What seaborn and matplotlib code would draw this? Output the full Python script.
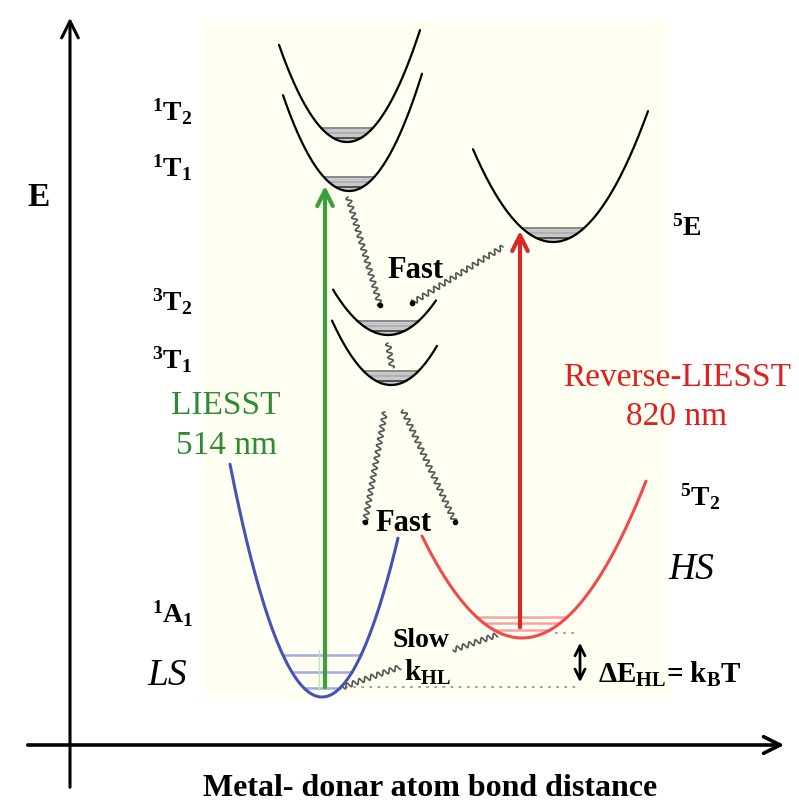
import numpy as np
import pandas as pd
import seaborn as sns
import matplotlib.pyplot as plt
from matplotlib.patches import Rectangle

# potential wells (pixel frame, y grows downward)
states = ["1T2", "1T1", "5E", "3T2", "3T1", "LS", "HS"]
well_x0 = [347, 349, 553, 388, 391, 322, 522]
well_ymin = [142, 191, 242, 335, 385, 697, 638]
well_k = [0.021, 0.022, 0.0145, 0.015, 0.0185, 0.0275, 0.0102]
well_left = [279, 283, 473, 333, 332, 230, 422]
well_right = [420, 422, 648, 436, 437, 398, 646]
# vibrational levels, depth above the well minimum
level_depth = [[14, 9, 4]] * 5 + [[42, 25, 9], [21, 15, 8]]

# non radiative (wavy) relaxations, start -> end
wavy_start = [(348, 197), (503, 247), (388, 343), (385, 412), (403, 410), (343, 687), (453, 650)]
wavy_end = [(380, 305), (412, 303), (392, 368), (365, 522), (455, 522), (400, 667), (497, 635)]
wavy_tip = [True, True, False, True, True, False, False]

# optical excitations
liesst_x, liesst_y = 325, (690, 183)
rev_x, rev_y = 520, (630, 228)

curve_color = {"1T2": "black", "1T1": "black", "5E": "black", "3T2": "black",
               "3T1": "black", "LS": "#4653b5", "HS": "#f24a4a"}
level_color = {"LS": "#a3abe0", "HS": "#f7a3a3"}

sns.set_style("white")
plt.rcParams["font.family"] = ["Liberation Serif", "DejaVu Serif"]
plt.rcParams["mathtext.fontset"] = "custom"
plt.rcParams["mathtext.rm"] = "Liberation Serif:bold"
plt.rcParams["mathtext.bf"] = "Liberation Serif:bold"
plt.rcParams["mathtext.it"] = "Liberation Serif:italic:bold"

fig = plt.figure(figsize=(7.99, 8.05), dpi=100)
ax = fig.add_axes([0, 0, 1, 1])
ax.set_xlim(0, 799)
ax.set_ylim(805, 0)
ax.axis("off")

ax.add_patch(Rectangle((205, 20), 463, 678, color="#fffff2", zorder=0))

rows = []
for s, x0, ym, k, xl, xr in zip(states, well_x0, well_ymin, well_k, well_left, well_right):
    xs = np.linspace(xl, xr, 200)
    for x in xs:
        rows.append({"state": s, "r": x, "E": ym - k * (x - x0) ** 2})
wells = pd.DataFrame(rows)

for s, x0, ym, k, depths in zip(states, well_x0, well_ymin, well_k, level_depth):
    sub = wells[wells.state == s]
    lw = 2.2 if s in ("LS", "HS") else 1.6
    sns.lineplot(data=sub, x="r", y="E", color=curve_color[s], lw=lw,
                 sort=False, estimator=None, ax=ax, zorder=4)
    if s in level_color:
        for d in depths:
            w = np.sqrt(d / k)
            ax.plot([x0 - w, x0 + w], [ym - d, ym - d], color=level_color[s], lw=1.8, zorder=3)
    else:
        top = max(depths)
        w = np.sqrt(top / k)
        xs = np.linspace(x0 - w, x0 + w, 60)
        ax.fill_between(xs, ym - top, ym - k * (xs - x0) ** 2, color="#c8c8c8", zorder=2)
        for d, c in zip(depths, ["#8a8a8a", "#b0b0b0", "#505050"]):
            w = np.sqrt(d / k)
            ax.plot([x0 - w, x0 + w], [ym - d, ym - d], color=c, lw=1.4, zorder=3)

ax.plot([319, 319], [650, 690], color="#b8e6b0", lw=1, zorder=3)


def wavy(p0, p1, tip):
    p0, p1 = np.array(p0, float), np.array(p1, float)
    d = p1 - p0
    L = np.hypot(*d)
    n = d[::-1] * np.array([-1, 1]) / L
    t = np.linspace(0, 1, int(L * 4))
    pts = p0 + np.outer(t, d) + np.outer(2.5 * np.sin(2 * np.pi * t * L / 6.5), n)
    ax.plot(pts[:, 0], pts[:, 1], color="#555555", lw=1.2, zorder=5)
    if tip:
        ax.plot(*p1, "o", color="black", ms=3, zorder=5)


for a, b, tip in zip(wavy_start, wavy_end, wavy_tip):
    wavy(a, b, tip)

# dotted reference levels and energy gap
ax.plot([345, 578], [687, 687], ls=(0, (1.5, 3)), color="#999999", lw=1.3, zorder=3)
ax.plot([555, 578], [633, 633], ls=(0, (1.5, 3)), color="#999999", lw=1.3, zorder=3)
ax.annotate("", xy=(580, 640), xytext=(580, 685),
            arrowprops=dict(arrowstyle="<->", lw=2, color="black", mutation_scale=18))

ax.annotate("", xy=(liesst_x, liesst_y[1]), xytext=(liesst_x, liesst_y[0]),
            arrowprops=dict(arrowstyle="->", lw=3, color="#3aa03a", mutation_scale=28), zorder=6)
ax.annotate("", xy=(rev_x, rev_y[1]), xytext=(rev_x, rev_y[0]),
            arrowprops=dict(arrowstyle="->", lw=3, color="#d42a2a", mutation_scale=28), zorder=6)

# main axes arrows
ax.annotate("", xy=(70, 15), xytext=(70, 790),
            arrowprops=dict(arrowstyle="->", lw=2.2, color="black", mutation_scale=30))
ax.annotate("", xy=(787, 745), xytext=(25, 745),
            arrowprops=dict(arrowstyle="->", lw=2.6, color="black", mutation_scale=30))

# labels
bold = dict(fontweight="bold", color="black", zorder=7)
ax.text(27, 197, "E", fontsize=24, va="center", **bold)
ax.text(152, 112, "$^1$T$_2$", fontsize=20, va="center", **bold)
ax.text(152, 168, "$^1$T$_1$", fontsize=20, va="center", **bold)
ax.text(152, 302, "$^3$T$_2$", fontsize=20, va="center", **bold)
ax.text(152, 360, "$^3$T$_1$", fontsize=20, va="center", **bold)
ax.text(152, 614, "$^1$A$_1$", fontsize=20, va="center", **bold)
ax.text(672, 228, "$^5$E", fontsize=20, va="center", **bold)
ax.text(680, 497, "$^5$T$_2$", fontsize=20, va="center", **bold)
ax.text(147, 676, "LS", fontsize=27, style="italic", va="center", color="black")
ax.text(668, 570, "HS", fontsize=27, style="italic", va="center", color="black")

ax.text(226, 406, "LIESST", fontsize=24, ha="center", va="center", color="#2e8b34")
ax.text(226, 446, "514 nm", fontsize=24, ha="center", va="center", color="#2e8b34")
ax.text(677, 378, "Reverse-LIESST", fontsize=24, ha="center", va="center", color="#e0201c")
ax.text(677, 417, "820 nm", fontsize=24, ha="center", va="center", color="#e0201c")

ax.text(415, 270, "Fast", fontsize=22, ha="center", va="center", **bold)
ax.text(404, 523, "Fast", fontsize=22, ha="center", va="center", **bold)
ax.text(421, 640, "Slow", fontsize=20, ha="center", va="center", **bold)
ax.text(404, 672, "k$_{\\mathrm{HL}}$", fontsize=21, ha="left", va="center", **bold)
ax.text(598, 674, "ΔE$_{\\mathrm{HL}}$= k$_{\\mathrm{B}}$T", fontsize=21, ha="left", va="center", **bold)

ax.text(430, 803, "Metal- donar atom bond distance", fontsize=23, ha="center",
        va="bottom", **bold)

fig.savefig("out.png", dpi=100)
